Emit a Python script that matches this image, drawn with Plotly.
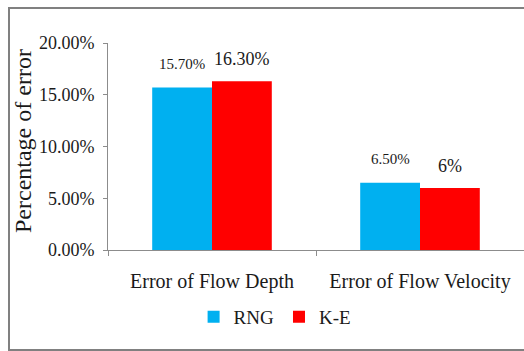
import plotly.graph_objects as go

# Error comparison of the two turbulence models
categories = ["Error of Flow Depth", "Error of Flow Velocity"]
rng_values = [0.157, 0.065]
ke_values = [0.163, 0.06]
rng_labels = ["15.70%", "6.50%"]
ke_labels = ["16.30%", "6%"]
y_ticks = [0, 0.05, 0.10, 0.15, 0.20]
y_tick_text = ["0.00%", "5.00%", "10.00%", "15.00%", "20.00%"]

W, H = 524, 351
FONT = "Liberation Serif"
TXT = "#1a1a1a"
AX = "#8c8c8c"

fig = go.Figure()
fig.add_trace(go.Bar(name="RNG", x=categories, y=rng_values, marker_color="#00B0F0",
                     marker_line_width=0))
fig.add_trace(go.Bar(name="K-E", x=categories, y=ke_values, marker_color="#FF0000",
                     marker_line_width=0))

# value labels above each bar
annotations = []
for cat, v, lab in zip(categories, rng_values, rng_labels):
    annotations.append(dict(x=cat, y=v, xref="x", yref="y", text=lab, showarrow=False,
                            xshift=-30, yshift=14, yanchor="bottom",
                            font=dict(family=FONT, size=15, color=TXT)))
for cat, v, lab in zip(categories, ke_values, ke_labels):
    annotations.append(dict(x=cat, y=v, xref="x", yref="y", text=lab, showarrow=False,
                            xshift=30, yshift=10, yanchor="bottom",
                            font=dict(family=FONT, size=18, color=TXT)))

# vertical axis title
annotations.append(dict(x=23 / W, y=1 - 141 / H, xref="paper", yref="paper",
                        text="Percentage of error", textangle=-90, showarrow=False,
                        xanchor="center", yanchor="middle",
                        font=dict(family=FONT, size=24, color=TXT)))

fig.update_layout(
    width=W, height=H,
    margin=dict(l=0, r=0, t=0, b=0, autoexpand=False),
    paper_bgcolor="white", plot_bgcolor="white",
    barmode="group", bargap=0.425, bargroupgap=0,
    font=dict(family=FONT, color=TXT),
    xaxis=dict(domain=[108 / W, 1.0], showline=True, linecolor=AX, linewidth=1,
               ticks="outside", tickson="boundaries", ticklen=5, tickcolor=AX,
               ticklabelstandoff=13,
               tickfont=dict(family=FONT, size=20, color=TXT), showgrid=False),
    yaxis=dict(domain=[101 / H, 308 / H], range=[0, 0.20], showline=True, linecolor=AX,
               linewidth=1, ticks="outside", ticklen=4, tickcolor=AX,
               ticklabelstandoff=5,
               tickvals=y_ticks, ticktext=y_tick_text, showgrid=False, zeroline=False,
               tickfont=dict(family=FONT, size=18, color=TXT)),
    legend=dict(orientation="h", x=0.525, xanchor="center", y=34 / H, yanchor="middle",
                font=dict(family=FONT, size=19, color=TXT), itemwidth=30,
                traceorder="normal", bgcolor="rgba(0,0,0,0)"),
    annotations=annotations,
    shapes=[dict(type="rect", xref="paper", yref="paper", x0=9 / W, x1=1.02,
                 y0=1 / H, y1=1 - 8 / H, line=dict(color="#808080", width=2),
                 fillcolor="rgba(0,0,0,0)", layer="below")],
)

fig.write_html("out.html")
